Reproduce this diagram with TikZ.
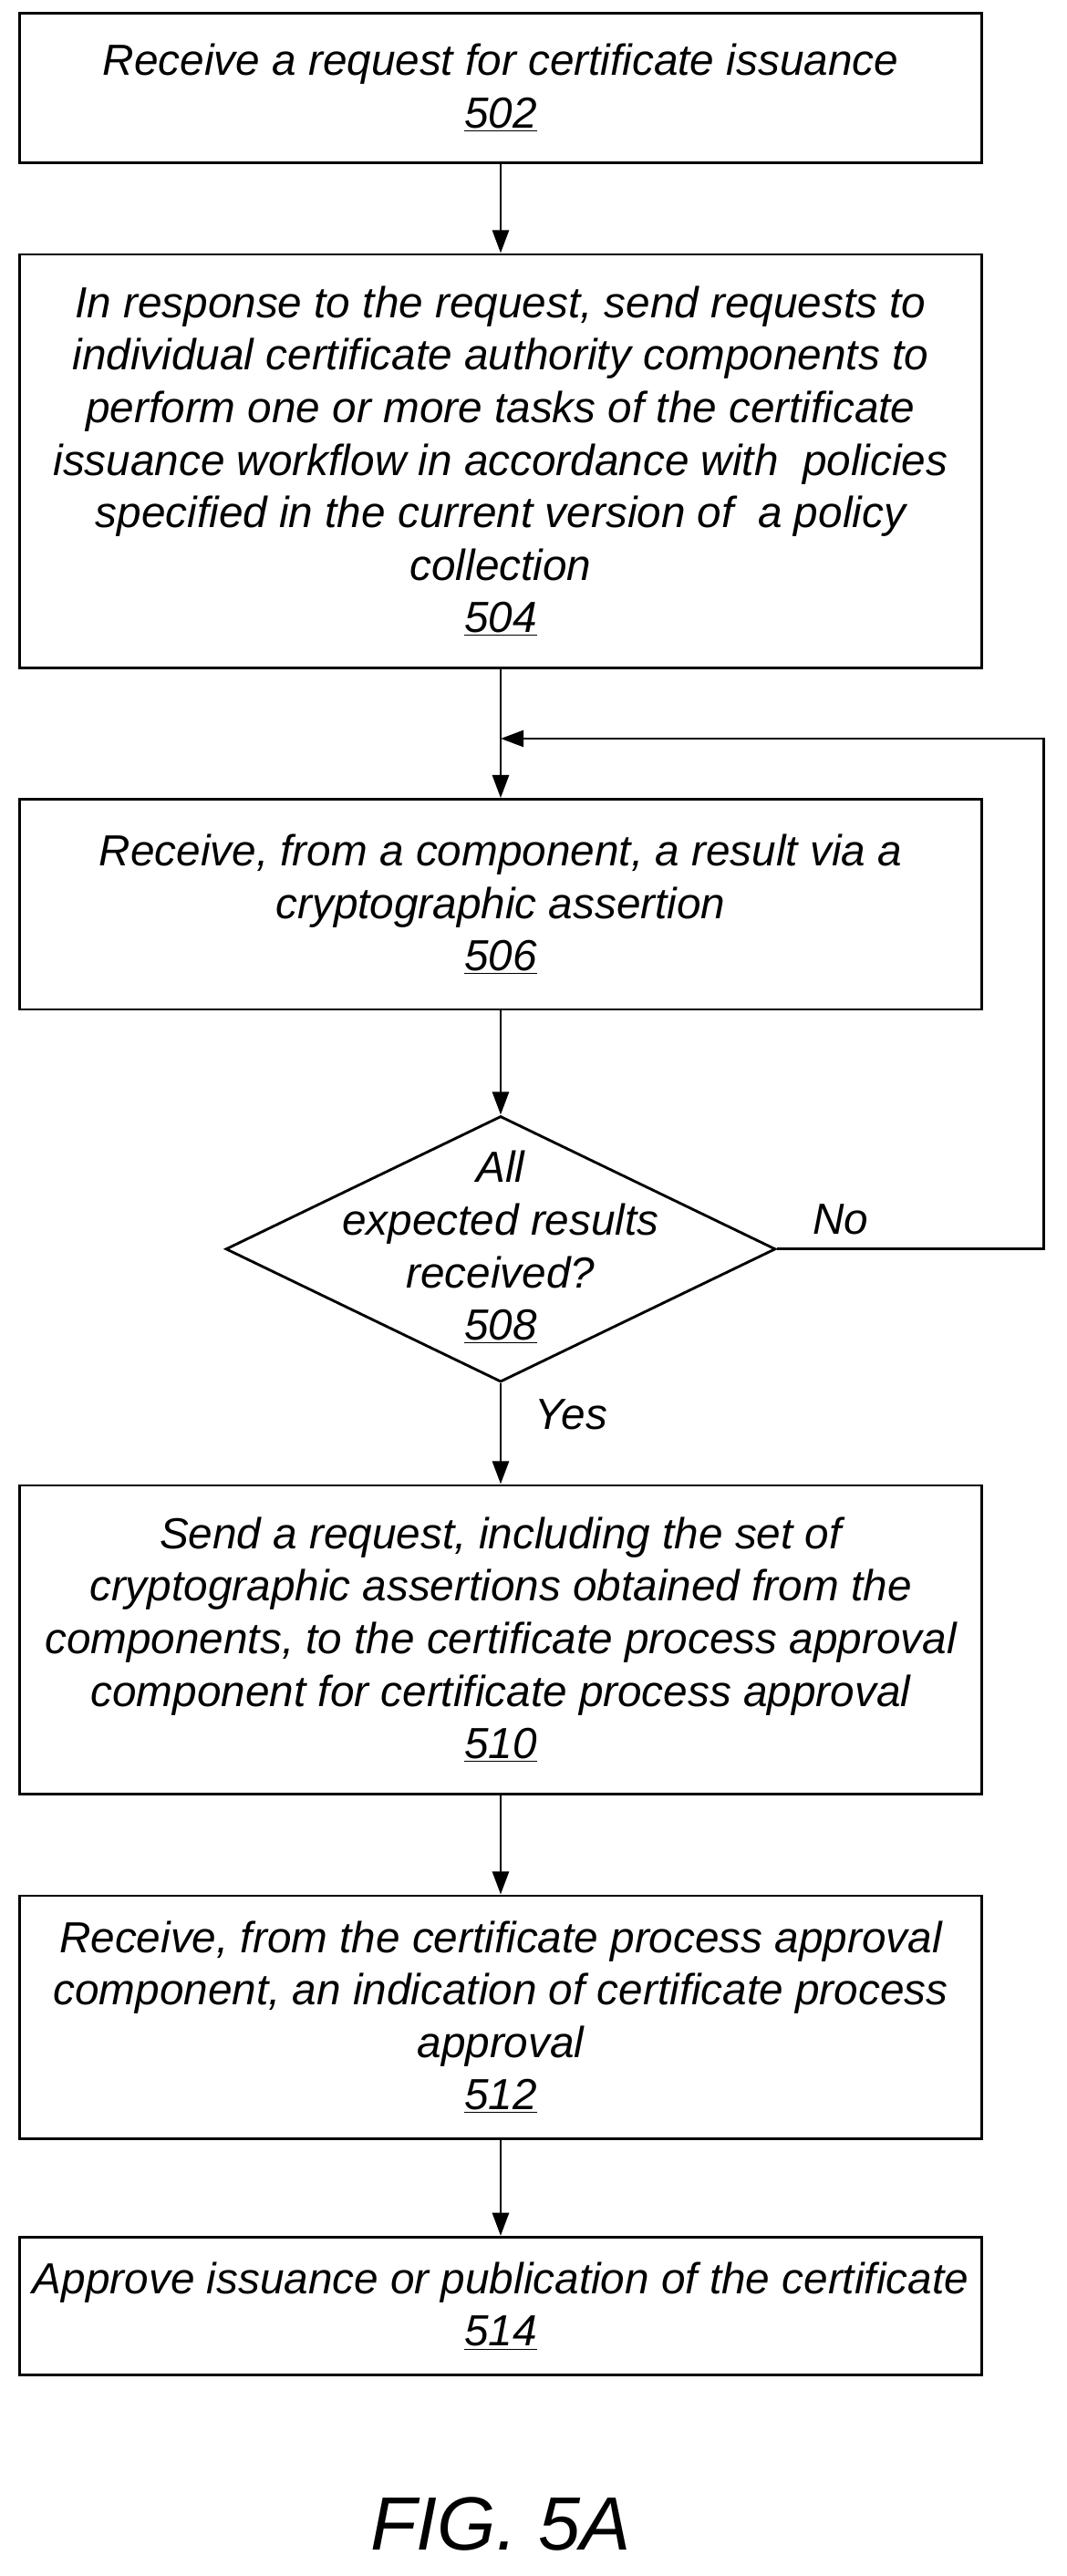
\documentclass[tikz,border=0pt]{standalone}
\usepackage{fontspec}
\setmainfont{Liberation Sans}
\usetikzlibrary{arrows.meta,shapes.geometric}
\begin{document}
\begin{tikzpicture}[x=1pt,y=-1pt,
  every node/.style={font=\fontsize{26.5}{32}\selectfont\itshape, align=center},
  box/.style={draw, line width=1.6pt, minimum width=586pt, inner sep=0pt},
  arr/.style={line width=1.6pt, -{Triangle[length=14pt,width=10pt]}}]
\useasboundingbox (0,0) rectangle (650,1569.5);
\node[box, minimum height=91pt] (a) at (305,53.5) {Receive a request for certificate issuance\\\underline{502}};
\node[box, minimum height=252pt] (b) at (305,281) {In response to the request, send requests to\\individual certificate authority components to\\perform one or more tasks of the certificate\\issuance workflow in accordance with \ policies\\specified in the current version of \ a policy\\collection\\\underline{504}};
\node[box, minimum height=128pt] (c) at (305,551) {Receive, from a component, a result via a\\cryptographic assertion\\\underline{506}};
\node[draw, line width=1.6pt, diamond, aspect=2.07, minimum width=335pt, minimum height=162pt, inner sep=0pt] (d) at (305,761) {};
\node (dt) at (305,760) {All\\expected results\\received?\\\underline{508}};
\node[box, minimum height=188pt] (e) at (305,999) {Send a request, including the set of\\cryptographic assertions obtained from the\\components, to the certificate process approval\\component for certificate process approval\\\underline{510}};
\node[box, minimum height=148pt] (f) at (305,1229) {Receive, from the certificate process approval\\component, an indication of certificate process\\approval\\\underline{512}};
\node[box, minimum height=84pt] (g) at (305,1405) {Approve issuance or publication of the certificate\\\underline{514}};
\node[font=\fontsize{46}{48}\selectfont\itshape] (fig) at (305,1538) {FIG. 5A};
\coordinate (r1) at (636,761);
\coordinate (r2) at (636,450);
\coordinate (m) at (305,450);
\draw[arr] (a) -- (b);
\draw[arr] (b) -- (c);
\draw[arr] (c) -- (d);
\draw[arr] (d) -- (e);
\draw[arr] (e) -- (f);
\draw[arr] (f) -- (g);
\draw[arr] (d.east) -- (r1) -- (r2) -- (m);
\node (no) at (512,743) {No};
\node (yes) at (348,862) {Yes};
\end{tikzpicture}
\end{document}
